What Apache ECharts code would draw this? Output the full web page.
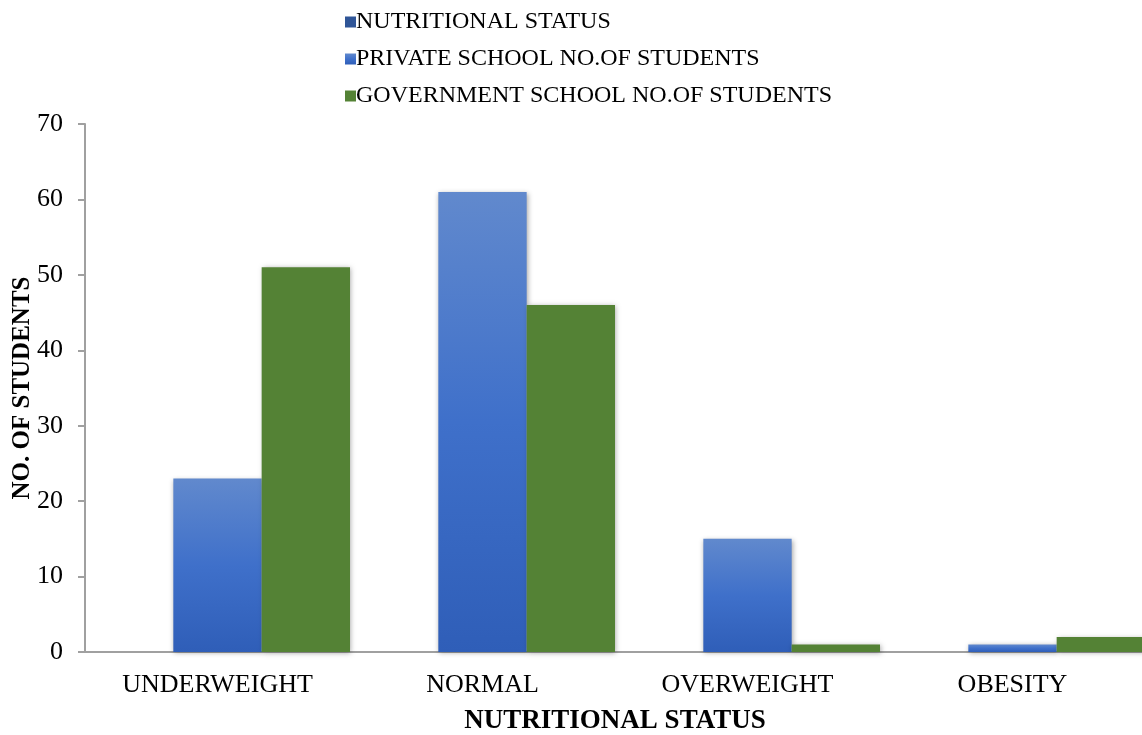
<!DOCTYPE html>
<html><head><meta charset="utf-8">
<script src="https://cdn.jsdelivr.net/npm/echarts@6/dist/echarts.min.js"></script>
<style>html,body{margin:0;padding:0;background:#fff}#c{width:1142px;height:735px}</style>
</head><body><div id="c"></div>
<script>
const categories = ['UNDERWEIGHT', 'NORMAL', 'OVERWEIGHT', 'OBESITY'];
const seriesNames = ['NUTRITIONAL STATUS', 'PRIVATE SCHOOL NO.OF STUDENTS', 'GOVERNMENT SCHOOL NO.OF STUDENTS'];
const nutritionalStatus = [null, null, null, null];
const privateSchool = [23, 61, 15, 1];
const governmentSchool = [51, 46, 1, 2];
const yTicks = [0, 10, 20, 30, 40, 50, 60, 70];

const font = '"Liberation Serif", "Times New Roman", serif';
const chart = echarts.init(document.getElementById('c'));
const shadow = {shadowColor: 'rgba(0,0,0,0.35)', shadowBlur: 5, shadowOffsetX: 1, shadowOffsetY: 1};
chart.setOption({
  animation: false,
  legend: {
    orient: 'vertical', left: 340, top: 5, itemGap: 13,
    itemWidth: 11, itemHeight: 11, icon: 'rect',
    textStyle: {fontFamily: font, fontSize: 24, color: '#000', padding: [0, 0, 0, -5]},
    data: seriesNames
  },
  grid: {left: 85, top: 124, width: 1060, height: 528, containLabel: false, outerBoundsMode: 'none'},
  xAxis: {
    type: 'category', data: categories,
    axisLine: {lineStyle: {color: '#a0a0a0', width: 2}},
    axisTick: {show: false},
    axisLabel: {fontFamily: font, fontSize: 26, color: '#000', margin: 20},
    name: 'NUTRITIONAL STATUS', nameLocation: 'middle', nameGap: 56, nameMoveOverlap: false,
    nameTextStyle: {fontFamily: font, fontSize: 27, fontWeight: 'bold', color: '#000'}
  },
  yAxis: {
    type: 'value', min: yTicks[0], max: yTicks[yTicks.length - 1], interval: 10,
    axisLine: {show: true, lineStyle: {color: '#a0a0a0', width: 2}},
    axisTick: {show: true, length: 7, lineStyle: {color: '#a0a0a0', width: 2}},
    splitLine: {show: false},
    axisLabel: {fontFamily: font, fontSize: 26, color: '#000', margin: 22},
    name: 'NO. OF STUDENTS', nameLocation: 'middle', nameGap: 50, nameMoveOverlap: false,
    nameTextStyle: {fontFamily: font, fontSize: 25, fontWeight: 'bold', color: '#000'}
  },
  series: [
    {name: seriesNames[0], type: 'bar', data: nutritionalStatus, barGap: '0%', barCategoryGap: '0%',
     itemStyle: {color: '#2F5597'}},
    {name: seriesNames[1], type: 'bar', data: privateSchool, barGap: '0%', barCategoryGap: '0%',
     itemStyle: Object.assign({color: new echarts.graphic.LinearGradient(0, 0, 0, 1, [
       {offset: 0, color: '#6189CD'}, {offset: 0.5, color: '#3F70CA'}, {offset: 1, color: '#2F5EB8'}
     ])}, shadow)},
    {name: seriesNames[2], type: 'bar', data: governmentSchool, barGap: '0%', barCategoryGap: '0%',
     itemStyle: Object.assign({color: '#548235'}, shadow)}
  ]
});
</script></body></html>
